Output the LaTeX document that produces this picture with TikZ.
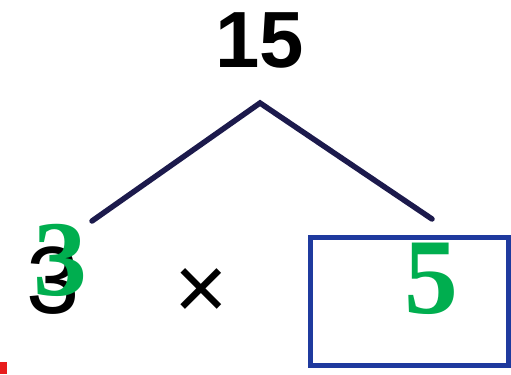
\documentclass[tikz,border=0pt]{standalone}
\usepackage{fontspec}
\setmainfont{Liberation Sans}
\newfontfamily\answerfont{Liberation Serif}
\definecolor{treeNavy}{HTML}{1C1A4C}
\definecolor{boxBlue}{HTML}{1F3A9E}
\definecolor{answerGreen}{HTML}{00AE4F}
\definecolor{markRed}{HTML}{E81C1C}

\begin{document}
\begin{tikzpicture}[
    x=1bp, y=-1bp,
    given/.style={
      text=black,
      inner sep=0pt,
      font=\bfseries\fontsize{80}{80}\selectfont,
    },
    answer/.style={
      text=answerGreen,
      inner sep=0pt,
      font=\answerfont\bfseries\fontsize{108}{108}\selectfont,
    },
    branch/.style={treeNavy, line width=5.5bp, line cap=round},
    answerbox/.style={
      draw=boxBlue,
      line width=5bp,
      minimum width=198bp,
      minimum height=128bp,
      inner sep=0pt,
    },
  ]
    \useasboundingbox (0,0) rectangle (511,374);

    \node[given] (whole) at (260,40) {15};
    \coordinate (apex) at (260,103);
    \coordinate (lefttip) at (92,221);
    \coordinate (righttip) at (432,219);

    \node[given, font=\fontsize{96}{96}\selectfont] (partone) at (53,281) {3};
    \node[given, font=\fontsize{92}{92}\selectfont] (times) at (201,294) {×};
    \node[answerbox] (blank) at (409,301.5) {};

    \node[answer] (fillone) at (60,260) {3};
    \node[answer] (filltwo) at (431,279) {5};

    \draw[branch] (lefttip) -- (apex) -- (righttip);

    \fill[markRed] (0,362) rectangle (7,374);
\end{tikzpicture}
\end{document}
